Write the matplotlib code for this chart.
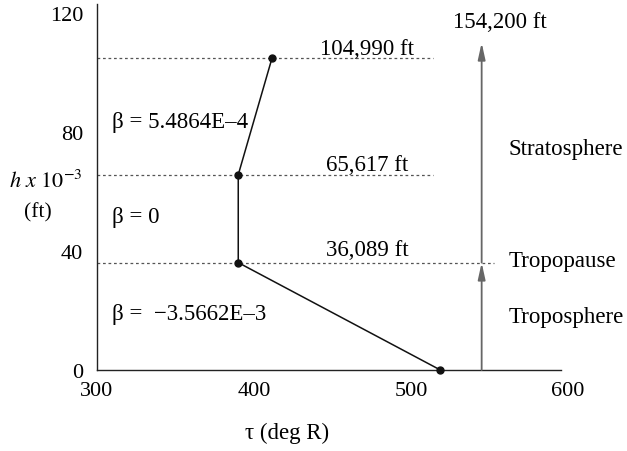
import matplotlib
matplotlib.use("Agg")
import matplotlib.pyplot as plt

plt.rcParams["font.family"] = ["Liberation Serif", "DejaVu Serif"]
plt.rcParams["mathtext.fontset"] = "stix"

# Standard atmosphere temperature profile (deg R vs altitude in kft)
temperature = [518.7, 389.97, 389.97, 411.57]
altitude_kft = [0.0, 36.089, 65.617, 104.99]
boundary_labels = ["36,089 ft", "65,617 ft", "104,990 ft"]
boundary_alt = [36.089, 65.617, 104.99]
boundary_line_end = [553, 514, 514]
boundary_label_gap = [2.7, 1.7, 1.3]
lapse_labels = ["β =  −3.5662E–3", "β = 0", "β = 5.4864E–4"]
lapse_label_alt = [17.1, 49.7, 81.7]
layer_names = ["Troposphere", "Tropopause", "Stratosphere"]
layer_name_alt = [16.0, 35.0, 72.6]
top_alt = 110.0
top_label = "154,200 ft"
x_ticks = [300, 400, 500, 600]
y_ticks = [0, 40, 80, 120]

FS = 16.5
W, H = 627, 452
fig = plt.figure(figsize=(W / 100, H / 100), dpi=100)
ax = fig.add_axes([97 / W, 81 / H, (568 - 97) / W, (371 - 5) / H])
ax.set_xlim(300, 600)
ax.set_ylim(0, 123)

for s in ("top", "right"):
    ax.spines[s].set_visible(False)
for s in ("left", "bottom"):
    ax.spines[s].set_linewidth(1.0)
    ax.spines[s].set_color("#222222")
ax.spines["bottom"].set_bounds(300, 595.5)

ax.set_xticks(x_ticks)
ax.set_yticks(y_ticks)
ax.tick_params(axis="x", length=0, pad=8, labelsize=16)
ax.tick_params(axis="y", length=0, pad=10, labelsize=16)

# Layer boundaries, labelled just above each dotted line
for alt, xend, gap, lab in zip(boundary_alt, boundary_line_end,
                               boundary_label_gap, boundary_labels):
    ax.plot([300, xend], [alt, alt], linestyle=(0, (2.2, 2.2)), color="#555555",
            lw=0.9, zorder=1)
    ax.text(472, alt + gap, lab, ha="center", va="baseline", fontsize=FS)

# Temperature profile
ax.plot(temperature, altitude_kft, color="#111111", lw=1.1, marker="o",
        markersize=5, zorder=3, clip_on=False)

# Lapse rates
for lab, y in zip(lapse_labels, lapse_label_alt):
    ax.text(309.5, y, lab, ha="left", va="baseline", fontsize=FS)

# Layer names
for lab, y in zip(layer_names, layer_name_alt):
    ax.text(562, y, lab, ha="left", va="baseline", fontsize=FS)

# Altitude arrows
arrow_kw = dict(arrowstyle="-|>,head_length=1.0,head_width=0.22", color="#666666",
                lw=1.3, shrinkA=0, shrinkB=0, mutation_scale=10)
ax.annotate("", xy=(545, boundary_alt[0]), xytext=(545, 0), arrowprops=arrow_kw)
ax.annotate("", xy=(545, top_alt), xytext=(545, boundary_alt[0]), arrowprops=arrow_kw)
ax.text(556.7, 115.3, top_label, ha="center", va="baseline", fontsize=FS,
        clip_on=False)

# Axis titles
fig.text(83 / W, 1 - 182 / H, r"$\mathit{h\ x\ 10^{-3}}$", ha="right", va="center",
         fontsize=16)
fig.text(38 / W, 1 - 213 / H, "(ft)", ha="center", va="center", fontsize=15.5)
fig.text(287 / W, 1 - 433 / H, "τ (deg R)", ha="center", va="center", fontsize=16.5)

fig.savefig("out.png", dpi=100)
